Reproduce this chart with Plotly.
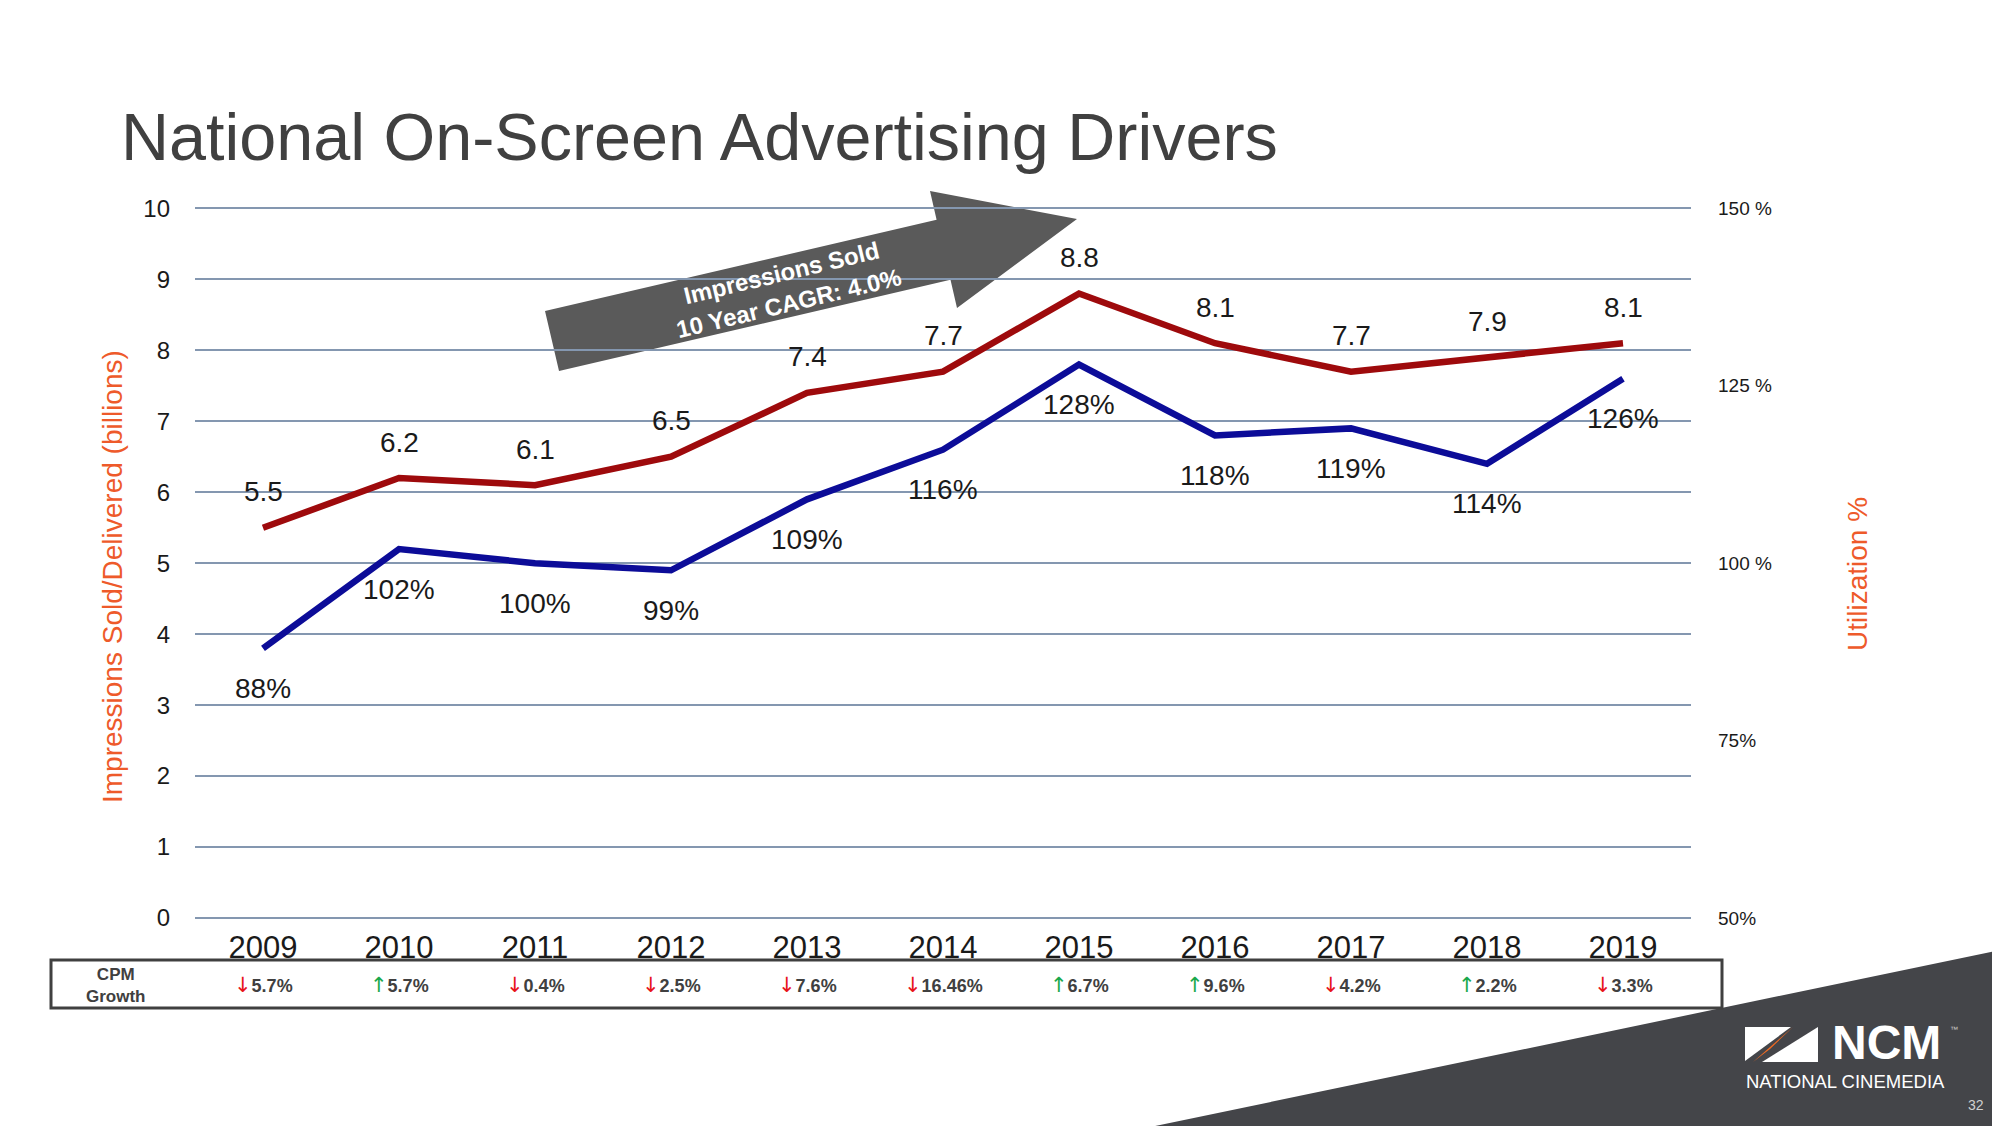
import plotly.graph_objects as go

# ---------------- data ----------------
years = [2009, 2010, 2011, 2012, 2013, 2014, 2015, 2016, 2017, 2018, 2019]
impressions_sold = [5.5, 6.2, 6.1, 6.5, 7.4, 7.7, 8.8, 8.1, 7.7, 7.9, 8.1]          # billions
utilization_pct = [88, 102, 100, 99, 109, 116, 128, 118, 119, 114, 126]              # %
cpm_growth = [-5.7, 5.7, -0.4, -2.5, -7.6, -16.46, 6.7, 9.6, -4.2, 2.2, -3.3]        # %

left_ticks = list(range(0, 11))
right_tickvals = [50, 75, 100, 125, 150]
right_ticktext = ["50%", "75%", "100 %", "125 %", "150 %"]

title_text = "National On-Screen Advertising Drivers"
left_title = "Impressions Sold/Delivered (billions)"
right_title = "Utilization %"
arrow_text = "Impressions Sold<br>10 Year CAGR: 4.0%"

# ---------------- layout geometry (reference pixel coords) ----------------
OFF = 8                      # page body margin in the browser
FW, FH = 2000 - OFF, 1126 - OFF
L, R, T, B = 195, 1691, 207, 918

def px(x):
    return (x - L) / (R - L)

def py(y):
    return (B - y) / (B - T)

def path(points):
    return "M " + " L ".join(f"{px(x):.5f},{py(y):.5f}" for x, y in points) + " Z"

FONT = "Liberation Sans, Arial, sans-serif"
RED_LINE = "#9E0A0C"
BLUE_LINE = "#0C0C98"
GRID = "#8497B0"
ORANGE = "#EE5A2A"
TXT = "#1A1A1A"

fig = go.Figure()

fig.add_trace(go.Scatter(
    x=years, y=impressions_sold, mode="lines", name="Impressions Sold",
    line=dict(color=RED_LINE, width=6.5), yaxis="y", hoverinfo="skip"))
fig.add_trace(go.Scatter(
    x=years, y=utilization_pct, mode="lines", name="Utilization",
    line=dict(color=BLUE_LINE, width=6.5), yaxis="y2", hoverinfo="skip"))

annotations = []

def ann(**kw):
    kw.setdefault("showarrow", False)
    kw.setdefault("xanchor", "center")
    kw.setdefault("yanchor", "middle")
    annotations.append(kw)

# data labels
for yr, v in zip(years, impressions_sold):
    ann(x=yr, y=v, xref="x", yref="y", text=f"{v}", yshift=36,
        font=dict(family=FONT, size=28, color=TXT))
for yr, v in zip(years, utilization_pct):
    ann(x=yr, y=v, xref="x", yref="y2", text=f"{v}%", yshift=-40,
        font=dict(family=FONT, size=28, color=TXT))

# title
ann(x=px(119), y=py(137), xref="paper", yref="paper", xanchor="left", text=title_text,
    font=dict(family=FONT, size=66.5, color="#404040"))

# axis titles
ann(x=px(112), y=py(577), xref="paper", yref="paper", text=left_title, textangle=-90,
    font=dict(family=FONT, size=28, color=ORANGE))
ann(x=px(1857), y=py(574), xref="paper", yref="paper", text=right_title, textangle=-90,
    font=dict(family=FONT, size=28, color=ORANGE))

# arrow text
ann(x=px(785), y=py(288), xref="paper", yref="paper", text=arrow_text, textangle=-13.5,
    font=dict(family=FONT, size=24, color="white", weight="bold"))

# CPM table
ann(x=px(116), y=py(985), xref="paper", yref="paper", text="CPM<br>Growth",
    font=dict(family=FONT, size=17, color="#404040", weight="bold"))
for yr, g in zip(years, cpm_growth):
    if g < 0:
        arrow = "<span style='color:#E8141B;font-family:DejaVu Sans;font-size:21px;font-weight:normal'>↓</span>"
    else:
        arrow = "<span style='color:#1AA84A;font-family:DejaVu Sans;font-size:21px;font-weight:normal'>↑</span>"
    ann(x=yr, y=py(985), xref="x", yref="paper", text=f"{arrow}{abs(g)}%",
        font=dict(family=FONT, size=18, color="#404040", weight="bold"))

# logo texts
ann(x=px(1886), y=py(1042), xref="paper", yref="paper", text="NCM",
    font=dict(family=FONT, size=48, color="white", weight="bold"))
ann(x=px(1954), y=py(1029), xref="paper", yref="paper", text="™",
    font=dict(family=FONT, size=8, color="#cccccc"))
ann(x=px(1846), y=py(1081), xref="paper", yref="paper", text="NATIONAL CINEMEDIA",
    font=dict(family=FONT, size=18.5, color="white"))
ann(x=px(1976), y=py(1105), xref="paper", yref="paper", text="32",
    font=dict(family=FONT, size=14, color="#d0d0d0"))

shapes = []
# big gray arrow
shapes.append(dict(type="path", xref="paper", yref="paper", layer="below",
                   path=path([(545, 311), (936.6, 219.8), (930, 191), (1077, 219),
                              (957, 308), (950.5, 279.8), (559, 371)]),
                   fillcolor="#5A5A5A", line=dict(width=0)))
# bottom-right dark triangle
shapes.append(dict(type="path", xref="paper", yref="paper",
                   path=path([(1136, 1130), (2004, 949.2), (2004, 1130)]),
                   fillcolor="#444549", line=dict(width=0)))
# CPM table box
shapes.append(dict(type="rect", xref="paper", yref="paper",
                   x0=px(51), x1=px(1722), y0=py(960), y1=py(1008),
                   line=dict(color="#404040", width=3), fillcolor="rgba(0,0,0,0)"))
# logo block
shapes.append(dict(type="path", xref="paper", yref="paper",
                   path=path([(1745, 1027), (1791, 1027), (1745, 1061)]),
                   fillcolor="white", line=dict(width=0)))
shapes.append(dict(type="path", xref="paper", yref="paper",
                   path=path([(1793, 1027), (1753, 1062), (1770, 1049)]),
                   fillcolor="#F26B21", line=dict(width=0)))
shapes.append(dict(type="path", xref="paper", yref="paper",
                   path=path([(1818, 1027), (1818, 1062), (1762, 1062)]),
                   fillcolor="white", line=dict(width=0)))

YTOP = 10.02
fig.update_layout(
    width=FW, height=FH,
    margin=dict(l=L - OFF, r=FW - (R - OFF), t=T - OFF, b=FH - (B - OFF), pad=0),
    paper_bgcolor="white", plot_bgcolor="white",
    showlegend=False,
    annotations=annotations,
    shapes=shapes,
    xaxis=dict(range=[2008.5, 2019.5], tickmode="linear", tick0=2009, dtick=1, tickformat="d",
               showgrid=False, zeroline=False, showline=False, ticks="", ticklabelstandoff=8,
               tickfont=dict(family=FONT, size=31, color=TXT)),
    yaxis=dict(range=[0, YTOP], tickvals=left_ticks, showgrid=True, gridcolor=GRID, gridwidth=1.5,
               zeroline=True, zerolinecolor=GRID, zerolinewidth=1.5, showline=False, ticks="",
               ticklabelstandoff=24, tickfont=dict(family=FONT, size=24, color=TXT)),
    yaxis2=dict(range=[50, 50 + 10 * YTOP], overlaying="y", side="right", tickvals=right_tickvals,
                ticktext=right_ticktext, showgrid=False, zeroline=False, showline=False, ticks="",
                ticklabelstandoff=26, tickfont=dict(family=FONT, size=19, color=TXT)),
)

fig.write_html("out.html")
